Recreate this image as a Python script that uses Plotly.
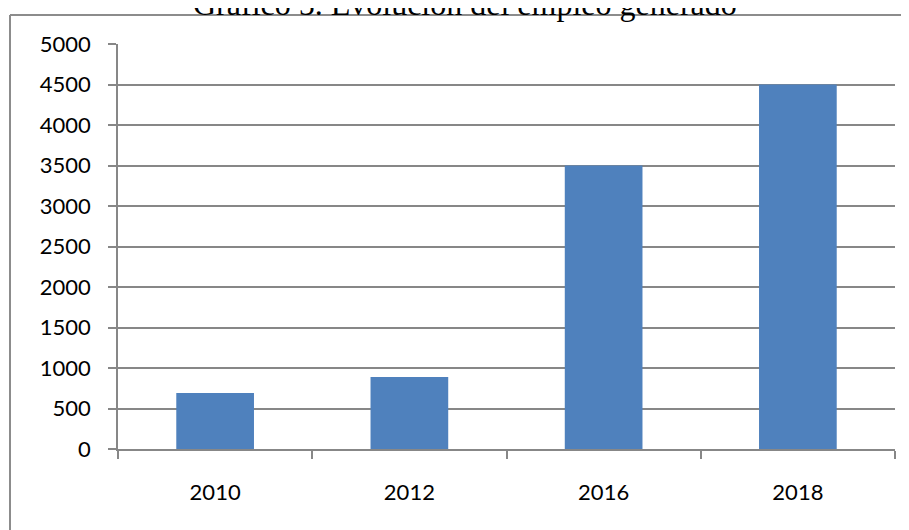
import plotly.graph_objects as go

years = ["2010", "2012", "2016", "2018"]
empleo = [690, 890, 3500, 4500]
y_ticks = [0, 500, 1000, 1500, 2000, 2500, 3000, 3500, 4000, 4500, 5000]
title_text = "Gráfico 5. Evolución del empleo generado"

# page has an 8px body margin, so the figure sits at (8, 8) in the window
OFF = 8
W, H = 909 - OFF, 530 - OFF
L, R, T, B = 118 - OFF, 14, 44 - OFF, 81
pw, ph = W - L - R, H - T - B


def px_x(page_x):
    return (page_x - OFF - L) / pw


def px_y(page_y):
    return (H - B - (page_y - OFF)) / ph


fig = go.Figure(go.Bar(x=years, y=empleo, marker=dict(color="#4f81bd", line=dict(width=0))))

axis_gray = "#878787"
fig.update_layout(
    width=W, height=H,
    margin=dict(l=L, r=R, t=T, b=B),
    paper_bgcolor="white", plot_bgcolor="white",
    bargap=0.6,
    showlegend=False,
    font=dict(family="Lato, Carlito, sans-serif", size=22, color="black"),
)

fig.update_xaxes(type="category", showgrid=False, showline=True, linecolor=axis_gray, linewidth=1.5,
                 ticks="outside", tickson="boundaries", ticklen=8, tickcolor=axis_gray, tickwidth=1.5,
                 ticklabelstandoff=23)
fig.update_yaxes(range=[0, 5000], tickvals=y_ticks, showgrid=True, gridcolor=axis_gray, gridwidth=1.5,
                 showline=True, linecolor=axis_gray, linewidth=1.5, zeroline=False,
                 ticks="outside", ticklen=8, tickcolor=axis_gray, tickwidth=1.5,
                 ticklabelstandoff=13)

# title as annotation (partly clipped at top, as in the reference)
fig.add_annotation(text=title_text, showarrow=False,
                   xref="paper", yref="paper",
                   x=px_x(465), xanchor="center",
                   y=px_y(4), yanchor="middle",
                   font=dict(family="Liberation Serif, Times New Roman, serif", size=32, color="black"))

border = "#8c8c8c"
x_left = px_x(10)
y_top = px_y(15)
fig.add_shape(type="line", xref="paper", yref="paper", x0=x_left, x1=x_left, y0=y_top, y1=-0.5,
              line=dict(color=border, width=2))
fig.add_shape(type="line", xref="paper", yref="paper", x0=x_left, x1=1.2, y0=y_top, y1=y_top,
              line=dict(color=border, width=2))

fig.write_html("out.html")
